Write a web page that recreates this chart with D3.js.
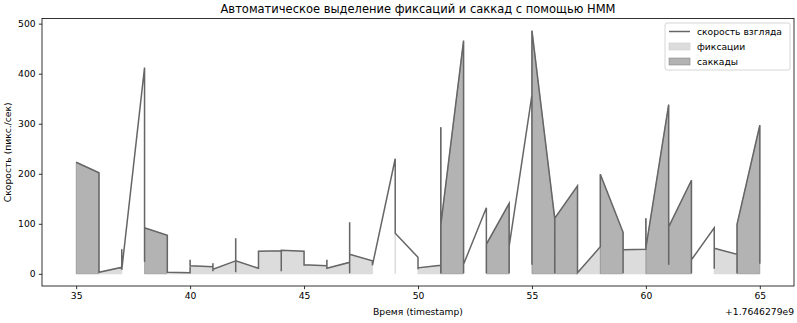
<!DOCTYPE html>
<html lang="ru">
<head>
    <meta charset="UTF-8">
    <title>HMM fixations / saccades</title>
    <script src="https://d3js.org/d3.v7.min.js"></script>
    <style>
        body {
            margin: 0;
            background: #fff;
            font-family: "DejaVu Sans", sans-serif;
        }
        .tick text {
            font: 9.2px "DejaVu Sans", sans-serif;
            fill: #000;
        }
        .domain {
            display: none;
        }
    </style>
</head>
<body>
<svg width="797" height="323"></svg>

<script>
    // time since 1.7646279e9 (sec), gaze speed, HMM state: s = saccade, f = fixation, n = none
    const times  = [35, 36, 36, 37, 37, 37, 38, 38, 38, 39, 39, 40, 40, 40, 41, 41, 41, 41, 42, 42, 42, 42,
                    43, 43, 44, 44, 44, 45, 45, 45, 46, 46, 46, 47, 47, 47, 47, 48, 48, 49, 49, 50, 50, 50,
                    51, 51, 51, 51, 52, 52, 52, 53, 53, 53, 54, 54, 54, 55, 55, 55, 56, 56, 56, 57, 57, 58,
                    58, 59, 59, 59, 60, 60, 60, 61, 61, 61, 62, 62, 62, 63, 63, 63, 64, 64, 64, 65, 65];
    const speeds = [223, 202, 3, 13, 49, 8, 412, 24, 92, 77, 3, 2, 28, 16, 14, 21, 5, 9, 26, 71, 3, 26,
                    11, 45, 46, 5, 47, 45, 16, 18, 16, 28, 11, 23, 103, 1, 39, 26, 17, 230, 81, 33, 9, 12,
                    17, 293, 1, 98, 466, 1, 19, 132, 1, 59, 141, 1, 55, 357, 18, 486, 111, 1, 111, 176, 2, 54,
                    199, 83, 1, 48, 49, 111, 52, 338, 18, 94, 187, 1, 28, 92, 10, 51, 39, 1, 99, 297, 20];
    const states = ["s","s","f","f","f","f","s","s","s","s","f","f","f","f","f","f","f","f","f","f","f","f",
                    "f","f","f","f","f","f","f","f","f","f","f","f","f","f","f","f","f","n","f","n","f","f",
                    "f","s","s","s","s","s","n","n","s","s","s","s","n","n","s","s","s","s","s","s","f","f",
                    "s","s","s","f","f","s","s","s","s","s","s","s","n","n","f","f","f","s","s","s","s"];

    const xTicks = [35, 40, 45, 50, 55, 60, 65];
    const yTicks = [0, 100, 200, 300, 400, 500];

    const title = "Автоматическое выделение фиксаций и саккад с помощью HMM";
    const xLabel = "Время (timestamp)";
    const yLabel = "Скорость (пикс./сек)";
    const offsetText = "+1.7646279e9";
    const legendLabels = ["скорость взгляда", "фиксации", "саккады"];

    const svg = d3.select("svg");
    const plotLeft = 42, plotRight = 794, plotTop = 18.5, plotBottom = 286;

    const points = times.map((t, i) => ({t: t, v: speeds[i], s: states[i]}));

    // matplotlib-like 5% margins
    const x = d3.scaleLinear().domain([33.5, 66.5]).range([plotLeft, plotRight]);
    const yMax = d3.max(speeds);
    const y = d3.scaleLinear().domain([-0.05 * yMax, yMax * 1.05]).range([plotBottom, plotTop]);

    const fillStyle = {
        f: {color: "#d3d3d3", alpha: 0.8},
        s: {color: "#808080", alpha: 0.6}
    };

    // split into runs of the same state, like fill_between(where=...)
    const runs = [];
    points.forEach(p => {
        const last = runs[runs.length - 1];
        if (last && last.s === p.s) last.pts.push(p);
        else runs.push({s: p.s, pts: [p]});
    });

    const area = d3.area()
        .x(d => x(d.t))
        .y0(y(0))
        .y1(d => y(d.v));

    svg.append("g")
      .selectAll("path")
      .data(runs.filter(r => r.s !== "n"))
      .enter().append("path")
        .attr("d", r => area(r.pts))
        .attr("fill", r => fillStyle[r.s].color)
        .attr("fill-opacity", r => fillStyle[r.s].alpha)
        .attr("stroke", r => fillStyle[r.s].color)
        .attr("stroke-opacity", r => fillStyle[r.s].alpha)
        .attr("stroke-width", 0.9);

    const line = d3.line()
        .x(d => x(d.t))
        .y(d => y(d.v));

    svg.append("path")
        .datum(points)
        .attr("fill", "none")
        .attr("stroke", "#666")
        .attr("stroke-width", 1.5)
        .attr("d", line);

    // axes
    svg.append("g")
        .attr("transform", `translate(0,${plotBottom})`)
        .call(d3.axisBottom(x).tickValues(xTicks).tickSize(3.2).tickPadding(3.2).tickFormat(d3.format("d")));

    svg.append("g")
        .attr("transform", `translate(${plotLeft},0)`)
        .call(d3.axisLeft(y).tickValues(yTicks).tickSize(3.2).tickPadding(3.2));

    svg.selectAll(".tick line").attr("stroke", "#000").attr("stroke-width", 0.8);

    svg.append("rect")
        .attr("x", plotLeft).attr("y", plotTop)
        .attr("width", plotRight - plotLeft).attr("height", plotBottom - plotTop)
        .attr("fill", "none")
        .attr("stroke", "#000")
        .attr("stroke-width", 0.8);

    // texts
    svg.append("text")
        .attr("x", (plotLeft + plotRight) / 2).attr("y", 13)
        .attr("text-anchor", "middle")
        .style("font-size", "11.5px")
        .text(title);

    svg.append("text")
        .attr("x", (plotLeft + plotRight) / 2).attr("y", 315)
        .attr("text-anchor", "middle")
        .style("font-size", "9.2px")
        .text(xLabel);

    svg.append("text")
        .attr("x", plotRight).attr("y", 315)
        .attr("text-anchor", "end")
        .style("font-size", "9.2px")
        .text(offsetText);

    svg.append("text")
        .attr("transform", `translate(11,${(plotTop + plotBottom) / 2}) rotate(-90)`)
        .attr("text-anchor", "middle")
        .style("font-size", "9.2px")
        .text(yLabel);

    // legend
    const lg = svg.append("g").attr("transform", "translate(665,23)");
    lg.append("rect")
        .attr("width", 125).attr("height", 47)
        .attr("rx", 2)
        .attr("fill", "#fff").attr("fill-opacity", 0.8)
        .attr("stroke", "#ccc").attr("stroke-width", 0.8);

    legendLabels.forEach((label, i) => {
        const cy = 8.5 + i * 15;
        if (i === 0) {
            lg.append("line")
                .attr("x1", 4).attr("x2", 25)
                .attr("y1", cy).attr("y2", cy)
                .attr("stroke", "#666").attr("stroke-width", 1.5);
        } else {
            const st = fillStyle[i === 1 ? "f" : "s"];
            lg.append("rect")
                .attr("x", 4).attr("y", cy - 3.5)
                .attr("width", 21).attr("height", 7)
                .attr("fill", st.color).attr("fill-opacity", st.alpha)
                .attr("stroke", st.color).attr("stroke-opacity", st.alpha)
                .attr("stroke-width", 0.9);
        }
        lg.append("text")
            .attr("x", 32).attr("y", cy + 3.3)
            .style("font-size", "9.2px")
            .text(label);
    });
</script>

</body>
</html>
